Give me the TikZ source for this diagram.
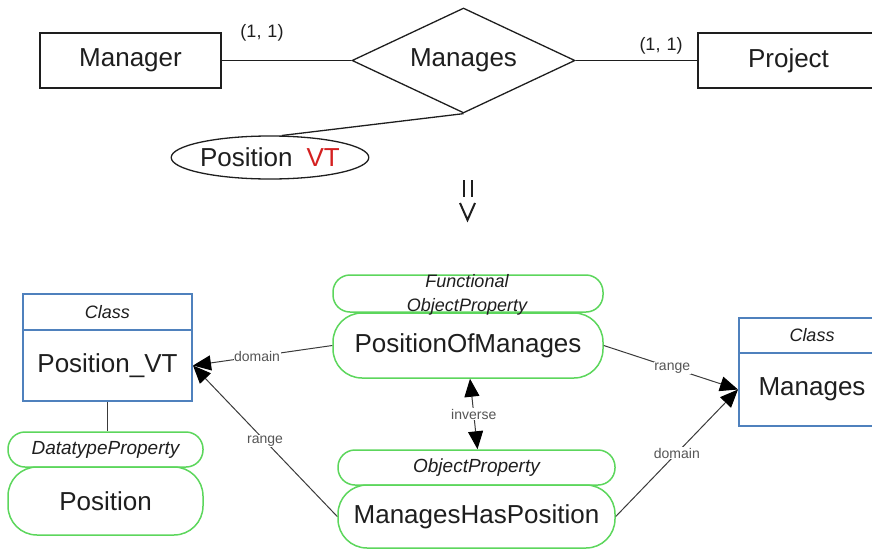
\documentclass[tikz,border=0pt]{standalone}
\usepackage{fontspec}
\setmainfont{Liberation Sans}
\usetikzlibrary{shapes.geometric,arrows.meta}
\definecolor{clsblue}{HTML}{4F81BD}
\definecolor{propgreen}{HTML}{5CD65C}
\definecolor{inkdark}{HTML}{1E1E1E}
\definecolor{edgegray}{HTML}{3A3A3A}
\definecolor{labgray}{HTML}{555555}
\newcommand{\fsz}[1]{\fontsize{#1}{#1}\selectfont}
\tikzset{
  erbox/.style={draw=inkdark, line width=1.3pt, rectangle, minimum width=181pt, minimum height=55pt, inner sep=0pt, text=inkdark, font=\fsz{26}},
  erlink/.style={draw=inkdark, line width=1.3pt},
  card/.style={font=\fsz{18}, text=inkdark, inner sep=0pt},
  clshead/.style={draw=clsblue, line width=2pt, rectangle, inner sep=0pt, font=\fsz{18}\itshape, text=inkdark},
  clsbody/.style={draw=clsblue, line width=2pt, rectangle, inner sep=0pt, font=\fsz{26}, text=inkdark},
  pillsmall/.style={draw=propgreen, line width=1.5pt, rounded corners=17pt, inner sep=0pt, font=\fsz{19}\itshape, text=inkdark},
  pillbig/.style={draw=propgreen, line width=1.5pt, rounded corners=29pt, inner sep=0pt, font=\fsz{26}, text=inkdark},
  owledge/.style={draw=edgegray, line width=1pt, -{Triangle[length=18pt,width=15pt,color=black,fill=black]}},
  owlboth/.style={draw=edgegray, line width=1pt, {Triangle[length=18pt,width=15pt,color=black,fill=black]}-{Triangle[length=18pt,width=15pt,color=black,fill=black]}},
  elab/.style={font=\fsz{14}, text=labgray, fill=white, inner sep=0.5pt}
}
\begin{document}
\begin{tikzpicture}[x=1pt,y=-1pt]
  \useasboundingbox (0,0) rectangle (872,554);
  \clip (0,0) rectangle (872,554);

  % ---- entity-relationship part ----
  \node[erbox] (mgr) at (130.5,60.5) {Manager};
  \node[erbox] (prj) at (788.5,60.5) {Project};
  \node[draw=inkdark, line width=1.3pt, diamond, inner sep=0pt, aspect=2.2,
        minimum width=223pt, minimum height=105pt, text=inkdark, font=\fsz{26}]
        (rel) at (463.5,60.5) {Manages};
  \node[draw=inkdark, line width=1.3pt, ellipse, inner sep=0pt,
        minimum width=192pt, minimum height=43pt, text=inkdark, font=\fsz{26}]
        (attr) at (270,157.5) {Position\hspace{14pt}\textcolor[HTML]{D42020}{VT}};
  \draw[erlink] (mgr.east) -- (rel.west);
  \draw[erlink] (rel.east) -- (prj.west);
  \draw[erlink] (rel.south) -- (attr.62);
  \node[card] (c1) at (262,33) {(1,\hspace{6pt}1)};
  \node[card] (c2) at (661,46) {(1,\hspace{6pt}1)};

  % transformation sign
  \draw[inkdark, line width=2pt] (463.5,180) -- (463.5,197) (471.5,180) -- (471.5,197);
  \draw[inkdark, line width=2pt] (460,203) -- (467.5,220) -- (475,203);

  % ---- ontology part ----
  % class Position_VT
  \node[clshead, minimum width=169pt, minimum height=36pt] (pvth) at (107.5,312) {Class};
  \node[clsbody, minimum width=169pt, minimum height=71pt] (pvt) at (107.5,365.5) {Position\_VT};
  % class Manages
  \node[clshead, minimum width=146pt, minimum height=35pt] (mcth) at (812,335.5) {Class};
  \node[clsbody, minimum width=146pt, minimum height=73pt] (mct) at (812,389.5) {Manages};

  % datatype property Position
  \node[pillsmall, minimum width=195pt, minimum height=35pt] (dph) at (105.5,449.5) {DatatypeProperty};
  \node[pillbig, minimum width=195pt, minimum height=68pt] (dp) at (105.5,501) {Position};
  \draw[edgegray, line width=1.3pt] (pvt.south) -- (pvt.south |- dph.north);

  % functional object property PositionOfManages
  \node[pillsmall, minimum width=270pt, minimum height=37pt] (pomh) at (468,293.5) {};
  \node[pillbig, minimum width=270pt, minimum height=65pt] (pom) at (468,345.5) {PositionOfManages};
  \node[font=\fsz{18}\itshape, text=inkdark, align=center, inner sep=0pt] (pomst) at (467,295)
       {Functional\\[6pt]ObjectProperty};

  % object property ManagesHasPosition
  \node[pillsmall, minimum width=277pt, minimum height=35pt] (mhph) at (476.5,467.5) {ObjectProperty};
  \node[pillbig, minimum width=277pt, minimum height=63pt] (mhp) at (476.5,516.5) {ManagesHasPosition};

  % domain / range / inverse links
  \draw[owledge] (pom.west) -- node[elab, pos=0.54] {domain} (pvt.east);
  \draw[owledge] (mhp.west) -- node[elab, pos=0.5] {range} (pvt.east);
  \draw[owledge] (pom.east) -- node[elab, pos=0.51] {range} (mct.west);
  \draw[owledge] (mhp.east) -- node[elab, pos=0.5] {domain} (mct.west);
  \draw[owlboth] ([xshift=2pt]pom.south) -- node[elab] {inverse} ([xshift=1pt]mhph.north);
\end{tikzpicture}
\end{document}
